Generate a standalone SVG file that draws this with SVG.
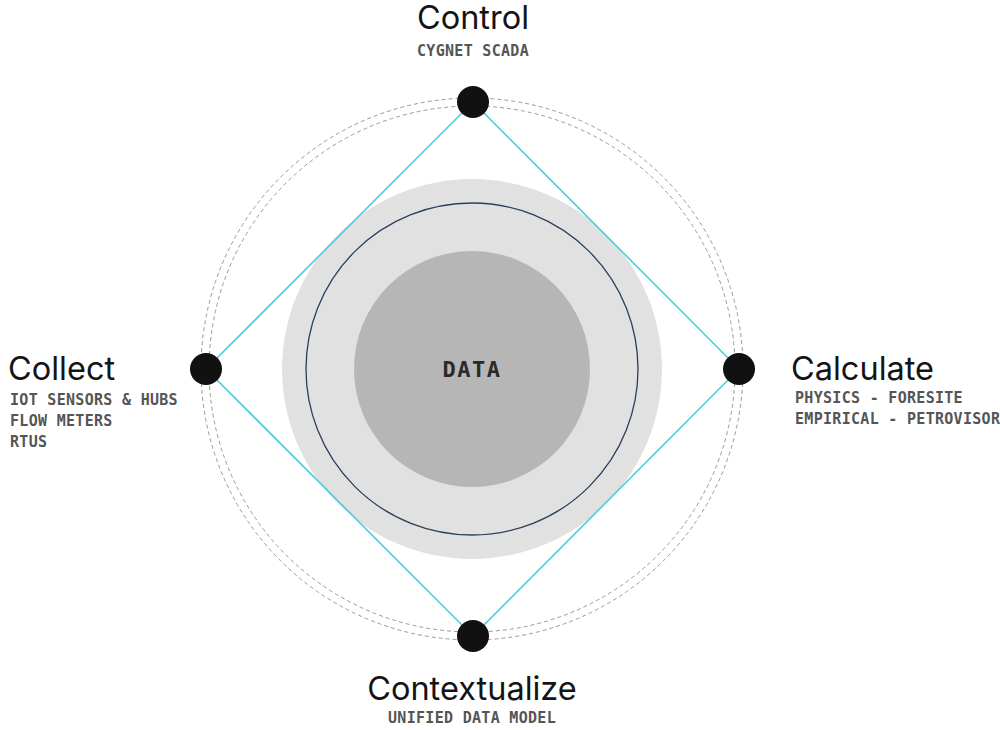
<svg xmlns="http://www.w3.org/2000/svg" width="1000" height="730" viewBox="0 0 1000 730">
  <style>
    .title { font-family: Inter, "Liberation Sans", sans-serif; font-size: 32.5px; fill: #141414; }
    .sub { font-family: "DejaVu Sans Mono", "Liberation Mono", monospace; font-weight: bold; font-size: 15px; letter-spacing: 0.3px; fill: #555; }
    .dash { fill: none; stroke: #9a9a9a; stroke-width: 1; stroke-dasharray: 4 3; }
    .dot { fill: #111; }
  </style>
  <rect width="1000" height="730" fill="#ffffff"/>

  <!-- orbit rings -->
  <g id="orbit">
    <circle class="dash" cx="472" cy="369" r="263"/>
    <circle class="dash" cx="472" cy="369" r="271"/>
  </g>

  <!-- central data core -->
  <g id="data-core">
    <circle cx="472" cy="369" r="190" fill="#e1e1e1"/>
    <circle cx="472" cy="369" r="166" fill="none" stroke="#2b3f5c" stroke-width="1.3"/>
    <circle cx="472" cy="369" r="118" fill="#b6b6b6"/>
    <text x="472" y="377" text-anchor="middle" font-family="'DejaVu Sans Mono', 'Liberation Mono', monospace" font-weight="bold" font-size="22" letter-spacing="1.5" fill="#2a2a2a">DATA</text>
  </g>

  <!-- connectors -->
  <g id="connectors" fill="none" stroke="#4dcdd7" stroke-width="1.6">
    <line x1="473" y1="102" x2="739" y2="369"/>
    <line x1="739" y1="369" x2="473" y2="636"/>
    <line x1="473" y1="636" x2="206" y2="369"/>
    <line x1="206" y1="369" x2="473" y2="102"/>
  </g>

  <g id="control">
    <circle class="dot" cx="473" cy="102" r="16"/>
    <text class="title" x="473" y="29" text-anchor="middle">Control</text>
    <text class="sub" x="473" y="56" text-anchor="middle">CYGNET SCADA</text>
  </g>

  <g id="collect">
    <circle class="dot" cx="206" cy="369" r="16"/>
    <text class="title" x="8" y="380">Collect</text>
    <text class="sub" x="10" y="405">IOT SENSORS &amp; HUBS</text>
    <text class="sub" x="10" y="426">FLOW METERS</text>
    <text class="sub" x="10" y="447">RTUS</text>
  </g>

  <g id="calculate">
    <circle class="dot" cx="739" cy="369" r="16"/>
    <text class="title" x="791" y="380">Calculate</text>
    <text class="sub" x="795" y="403">PHYSICS - FORESITE</text>
    <text class="sub" x="795" y="424">EMPIRICAL - PETROVISOR</text>
  </g>

  <g id="contextualize">
    <circle class="dot" cx="473" cy="636" r="16"/>
    <text class="title" x="472" y="700" text-anchor="middle">Contextualize</text>
    <text class="sub" x="472" y="723" text-anchor="middle">UNIFIED DATA MODEL</text>
  </g>
</svg>
